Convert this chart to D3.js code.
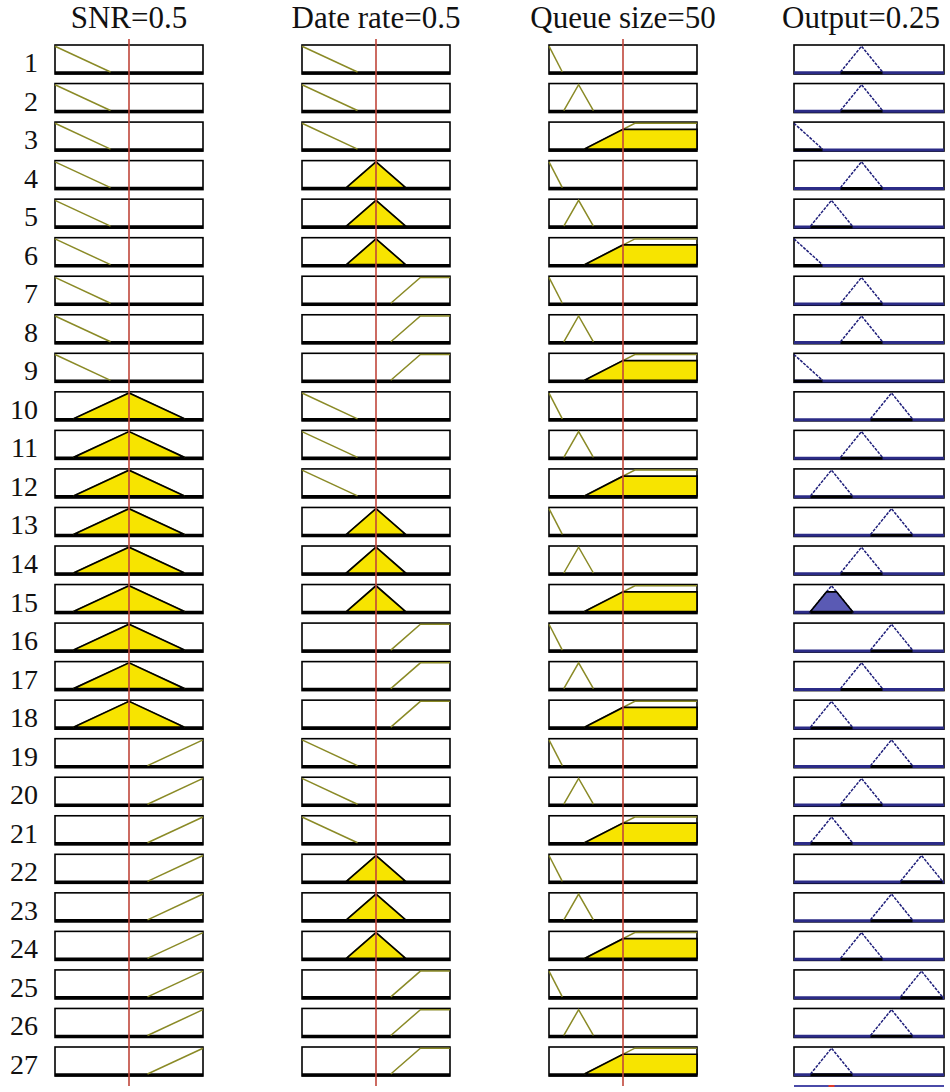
<!DOCTYPE html>
<html>
<head>
<meta charset="utf-8">
<script src="https://cdn.jsdelivr.net/npm/d3@7"></script>
<style>
  body { margin: 0; background: #fff; }
  text { font-family: "Liberation Serif", "DejaVu Serif", serif; fill: #111; }
</style>
</head>
<body>
<div id="chart"></div>
<script>
// Rule viewer: 27 rules, 3 inputs, 1 output

// Rule numbers
const ruleIds = [1,2,3,4,5,6,7,8,9,10,11,12,13,14,15,16,17,18,19,20,21,22,23,24,25,26,27];

// Antecedents / consequents of each rule
const snrRule   = ["low","low","low","low","low","low","low","low","low",
                   "med","med","med","med","med","med","med","med","med",
                   "high","high","high","high","high","high","high","high","high"];
const dateRule  = ["low","low","low","med","med","med","high","high","high",
                   "low","low","low","med","med","med","high","high","high",
                   "low","low","low","med","med","med","high","high","high"];
const queueRule = ["low","med","high","low","med","high","low","med","high",
                   "low","med","high","low","med","high","low","med","high",
                   "low","med","high","low","med","high","low","med","high"];
const outRule   = ["b","b","z","b","a","z","b","b","z",
                   "c","b","a","c","b","a","c","b","a",
                   "c","b","a","d","c","b","d","c","a"];

// Membership functions, trapezoid [a, b, c, d]
const snrSets   = { low: [0, 0, 0, 0.375], med: [0.125, 0.5, 0.5, 0.875], high: [0.625, 1, 1, 1] };
const dateSets  = { low: [0, 0, 0, 0.375], med: [0.3, 0.5, 0.5, 0.7], high: [0.6, 0.8, 1, 1] };
const queueSets = { low: [0, 0, 0, 9], med: [10, 20, 20, 30], high: [24, 58, 100, 100] };
const outSets   = { z: [0, 0, 0, 0.19], a: [0.11, 0.25, 0.25, 0.39], b: [0.31, 0.45, 0.45, 0.59],
                    c: [0.51, 0.65, 0.65, 0.79], d: [0.71, 0.85, 0.85, 0.99] };

// Input values and titles
const inputValues = [0.5, 0.5, 50];
const titles = ["SNR=0.5", "Date rate=0.5", "Queue size=50", "Output=0.25"];
const domains = [[0, 1], [0, 1], [0, 100], [0, 1]];

const width = 950, height = 1092;
const colX = [55, 302, 549, 794];
const colW = [148, 148, 148, 150];
const serif = '"Liberation Serif", "DejaVu Serif", serif';

const svg = d3.select("#chart").append("svg")
  .attr("width", width)
  .attr("height", height);

const y = d3.scaleBand()
  .domain(ruleIds)
  .range([45, 1076])
  .paddingInner(0.2475)
  .paddingOuter(0);

const xs = colX.map((x0, i) => d3.scaleLinear().domain(domains[i]).range([x0, x0 + colW[i]]));

function mu(p, v) {
  const [a, b, c, d] = p;
  if (v < a || v > d) return 0;
  if (v >= b && v <= c) return 1;
  if (v < b) return (v - a) / (b - a);
  return (d - v) / (d - c);
}

function shapePoints(p) {
  const [a, b, c, d] = p;
  const pts = [];
  if (b > a) pts.push([a, 0]);
  pts.push([b, 1]);
  if (c > b) pts.push([c, 1]);
  if (d > c) pts.push([d, 0]);
  return pts;
}

function clipPoints(p, h) {
  const [a, b, c, d] = p;
  return [[a, 0], [a + (b - a) * h, h], [d - (d - c) * h, h], [d, 0]];
}

const ruleSets = [snrRule, dateRule, queueRule];
const setTables = [snrSets, dateSets, queueSets];

// firing strength of each rule (min)
const strength = ruleIds.map((id, r) =>
  d3.min(ruleSets.map((rs, k) => mu(setTables[k][rs[r]], inputValues[k]))));

// titles
svg.selectAll("text.title")
  .data(titles)
  .enter()
  .append("text")
  .attr("class", "title")
  .attr("x", (d, i) => i < 3 ? xs[i](inputValues[i]) : 861)
  .attr("y", 28)
  .attr("text-anchor", "middle")
  .attr("font-family", serif)
  .attr("font-size", "31px")
  .text(d => d);

// row numbers
svg.selectAll("text.num")
  .data(ruleIds)
  .enter()
  .append("text")
  .attr("class", "num")
  .attr("x", 38)
  .attr("y", d => y(d) + 27)
  .attr("text-anchor", "end")
  .attr("font-family", serif)
  .attr("font-size", "28px")
  .text(d => d);

const line = d3.line();

ruleIds.forEach((id, r) => {
  const top = y(id);
  const bh = y.bandwidth();
  const yMu = d3.scaleLinear().domain([0, 1]).range([top + bh - 2, top + 1.2]);

  for (let k = 0; k < 4; k++) {
    const x = xs[k];
    const g = svg.append("g");
    const p = k < 3 ? setTables[k][ruleSets[k][r]] : outSets[outRule[r]];
    const h = k < 3 ? mu(p, inputValues[k]) : strength[r];

    g.append("rect")
      .attr("x", colX[k])
      .attr("y", top)
      .attr("width", colW[k])
      .attr("height", bh)
      .attr("fill", "#fff")
      .attr("stroke", "#000")
      .attr("stroke-width", 1.6);

    // baseline
    if (k < 3) {
      g.append("line")
        .attr("x1", colX[k]).attr("x2", colX[k] + colW[k])
        .attr("y1", top + bh - 1.2).attr("y2", top + bh - 1.2)
        .attr("stroke", "#000").attr("stroke-width", 3.2);
    } else {
      g.append("line")
        .attr("x1", colX[k]).attr("x2", colX[k] + colW[k])
        .attr("y1", top + bh - 1.2).attr("y2", top + bh - 1.2)
        .attr("stroke", "#2b2b86").attr("stroke-width", 3);
      g.append("line")
        .attr("x1", x(p[0])).attr("x2", x(p[3]))
        .attr("y1", top + bh - 1.2).attr("y2", top + bh - 1.2)
        .attr("stroke", "#000").attr("stroke-width", 3);
    }

    // membership curve
    g.append("path")
      .attr("d", line(shapePoints(p).map(q => [x(q[0]), yMu(q[1])])))
      .attr("fill", "none")
      .attr("stroke", k < 3 ? "#8a8a26" : "#1e1e7a")
      .attr("stroke-width", 1.5)
      .attr("stroke-dasharray", k < 3 ? null : "3,1.2");

    // fired part
    if (h > 0) {
      g.append("path")
        .attr("d", line(clipPoints(p, h).map(q => [x(q[0]), yMu(q[1])])) + "Z")
        .attr("fill", k < 3 ? "#f7e400" : "#5a5ab4")
        .attr("stroke", "#000")
        .attr("stroke-width", 1.7);
    }
  }
});

// red input lines
svg.selectAll("line.input")
  .data(inputValues)
  .enter()
  .append("line")
  .attr("class", "input")
  .attr("x1", (d, i) => xs[i](d))
  .attr("x2", (d, i) => xs[i](d))
  .attr("y1", 39)
  .attr("y2", 1086)
  .attr("stroke", "#c0463a")
  .attr("stroke-width", 1.6);

// aggregated output line with centroid mark
const centroid = 0.25;
svg.append("line")
  .attr("x1", colX[3]).attr("x2", colX[3] + colW[3])
  .attr("y1", 1086).attr("y2", 1086)
  .attr("stroke", "#4a4aa8").attr("stroke-width", 2);
svg.append("line")
  .attr("x1", xs[3](centroid) - 3).attr("x2", xs[3](centroid) + 3)
  .attr("y1", 1086).attr("y2", 1086)
  .attr("stroke", "#e03a2a").attr("stroke-width", 2);
</script>
</body>
</html>
